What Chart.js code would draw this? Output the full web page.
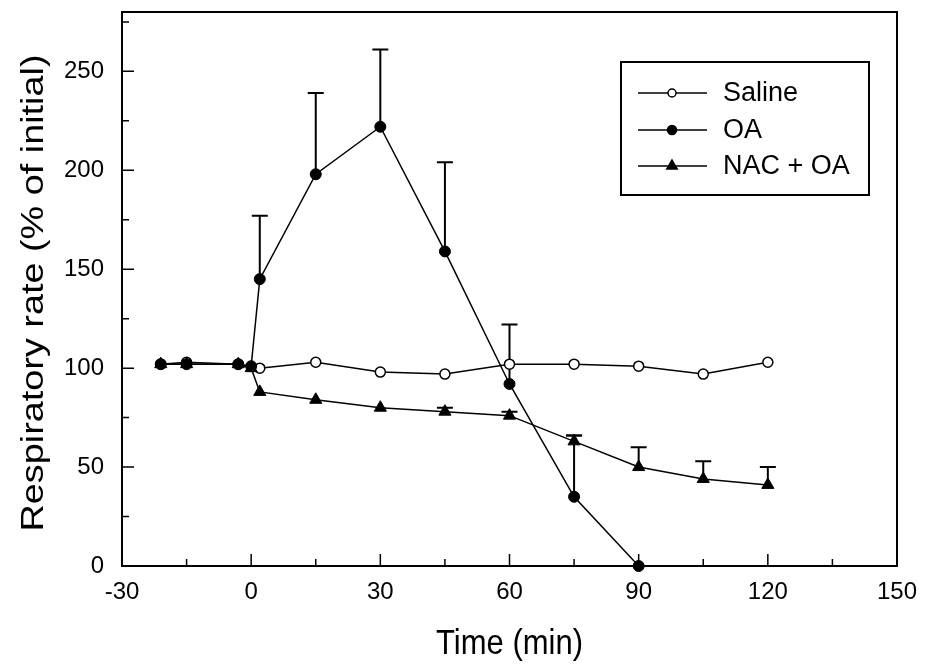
<!DOCTYPE html>
<html>
<head>
<meta charset="utf-8">
<script src="https://cdn.jsdelivr.net/npm/chart.js@4"></script>
<style>
  body { margin: 0; background: #fff; }
  #wrap { width: 925px; height: 666px; }
</style>
</head>
<body>
<div id="wrap"><canvas id="myChart" width="925" height="666"></canvas></div>
<script>
// values
const salineTime = [-21, -15, -3, 2, 15, 30, 45, 60, 75, 90, 105, 120];
const salineRate = [102, 103, 102, 100, 103, 98, 97, 102, 102, 101, 97, 103];

const oaTime = [-21, -15, -3, 0, 2, 15, 30, 45, 60, 75, 90];
const oaRate = [102, 102, 102, 101, 145, 198, 222, 159, 92, 35, 0];
const oaErr  = [0, 0, 0, 0, 32, 41, 39, 45, 30, 31, 0];

const nacTime = [-21, -15, -3, 0, 2, 15, 30, 45, 60, 75, 90, 105, 120];
const nacRate = [102, 102, 102, 100, 88, 84, 80, 78, 76, 63, 50, 44, 41];
const nacErr  = [0, 0, 0, 0, 0, 0, 0, 2, 2, 3, 10, 9, 9];

const xTicks = [-30, 0, 30, 60, 90, 120, 150];
const yTicks = [0, 50, 100, 150, 200, 250];

const FONT = "'Liberation Sans', Arial, sans-serif";

function pts(t, v) {
  return t.map((x, i) => ({x: x, y: v[i]}));
}

// box, inward ticks, error bars, legend, axis titles
const framePlugin = {
  id: "frame",
  beforeDatasetsDraw(chart) {
    const ctx = chart.ctx;
    const a = chart.chartArea;
    const xs = chart.scales.x, ys = chart.scales.y;
    ctx.save();
    ctx.strokeStyle = "#000";
    ctx.lineWidth = 2;
    ctx.strokeRect(a.left, a.top, a.right - a.left, a.bottom - a.top);
    ctx.lineWidth = 1.5;
    ctx.beginPath();
    for (let v = -30; v <= 150; v += 15) {
      const px = xs.getPixelForValue(v);
      const len = (v % 30 === 0) ? 12 : 7;
      ctx.moveTo(px, a.bottom);
      ctx.lineTo(px, a.bottom - len);
    }
    for (let v = 0; v <= 275; v += 25) {
      const py = ys.getPixelForValue(v);
      const len = (v % 50 === 0) ? 12 : 7;
      ctx.moveTo(a.left, py);
      ctx.lineTo(a.left + len, py);
    }
    ctx.stroke();

    // error bars (upper only)
    ctx.lineWidth = 2;
    chart.data.datasets.forEach(ds => {
      if (!ds.err) return;
      ds.data.forEach((p, i) => {
        const e = ds.err[i];
        if (!e) return;
        const px = xs.getPixelForValue(p.x);
        const y0 = ys.getPixelForValue(p.y);
        const y1 = ys.getPixelForValue(p.y + e);
        ctx.beginPath();
        ctx.moveTo(px, y0);
        ctx.lineTo(px, y1);
        ctx.moveTo(px - 8, y1);
        ctx.lineTo(px + 8, y1);
        ctx.stroke();
      });
    });
    ctx.restore();
  },
  afterDraw(chart) {
    const ctx = chart.ctx;
    const a = chart.chartArea;
    ctx.save();
    ctx.fillStyle = "#000";
    ctx.strokeStyle = "#000";

    // axis titles
    ctx.font = "31px " + FONT;
    ctx.textAlign = "center";
    ctx.textBaseline = "middle";
    ctx.save();
    ctx.translate((a.left + a.right) / 2, 644);
    ctx.scale(1, 1.12);
    ctx.fillText("Time (min)", 0, 0);
    ctx.restore();
    ctx.save();
    ctx.translate(34, 293);
    ctx.rotate(-Math.PI / 2);
    ctx.scale(1.22, 1);
    ctx.fillText("Respiratory rate (% of initial)", 0, 0);
    ctx.restore();

    // legend
    ctx.lineWidth = 2;
    ctx.strokeRect(621, 62, 248, 133);
    const rows = [93, 130, 166];
    ctx.font = "27px " + FONT;
    ctx.textAlign = "left";
    chart.data.datasets.forEach((ds, i) => {
      const y = rows[i];
      ctx.lineWidth = 1.5;
      ctx.strokeStyle = "#000";
      ctx.beginPath();
      ctx.moveTo(638, y);
      ctx.lineTo(707, y);
      ctx.stroke();
      ctx.fillStyle = ds.pointBackgroundColor;
      Chart.helpers.drawPoint(ctx, {
        pointStyle: ds.pointStyle, radius: ds.pointRadius - 1, borderWidth: 1.5
      }, 672, y);
      ctx.fillStyle = "#000";
      ctx.fillText(ds.label, 723, y + 1);
    });
    ctx.restore();
  }
};

new Chart("myChart", {
  type: "line",
  data: {
    datasets: [{
      label: "Saline",
      order: 3,
      data: pts(salineTime, salineRate),
      borderColor: "#000",
      borderWidth: 1.5,
      pointStyle: "circle",
      pointRadius: 5,
      pointBackgroundColor: "#fff",
      pointBorderColor: "#000",
      pointBorderWidth: 1.5
    }, {
      label: "OA",
      order: 2,
      data: pts(oaTime, oaRate),
      err: oaErr,
      borderColor: "#000",
      borderWidth: 1.5,
      pointStyle: "circle",
      pointRadius: 5.5,
      pointBackgroundColor: "#000",
      pointBorderColor: "#000",
      pointBorderWidth: 1
    }, {
      label: "NAC + OA",
      order: 1,
      data: pts(nacTime, nacRate),
      err: nacErr,
      borderColor: "#000",
      borderWidth: 1.5,
      pointStyle: "triangle",
      pointRadius: 7,
      pointBackgroundColor: "#000",
      pointBorderColor: "#000",
      pointBorderWidth: 1
    }]
  },
  options: {
    responsive: false,
    animation: false,
    clip: false,
    layout: { padding: { top: 12, right: 28, left: 0, bottom: 0 } },
    plugins: {
      legend: { display: false },
      tooltip: { enabled: false }
    },
    scales: {
      x: {
        type: "linear",
        min: -30,
        max: 150,
        afterFit: s => { s.height = 100; s.paddingLeft = 0; s.paddingRight = 0; },
        afterBuildTicks: s => { s.ticks = xTicks.map(v => ({value: v})); },
        grid: { display: false },
        border: { display: false },
        ticks: {
          padding: 4,
          color: "#000",
          font: { family: FONT, size: 24 }
        }
      },
      y: {
        min: 0,
        max: 280,
        afterFit: s => { s.width = 122; s.paddingTop = 0; s.paddingBottom = 0; },
        afterBuildTicks: s => { s.ticks = yTicks.map(v => ({value: v})); },
        grid: { display: false },
        border: { display: false },
        ticks: {
          padding: 10,
          color: "#000",
          font: { family: FONT, size: 24 }
        }
      }
    }
  },
  plugins: [framePlugin]
});
</script>
</body>
</html>
